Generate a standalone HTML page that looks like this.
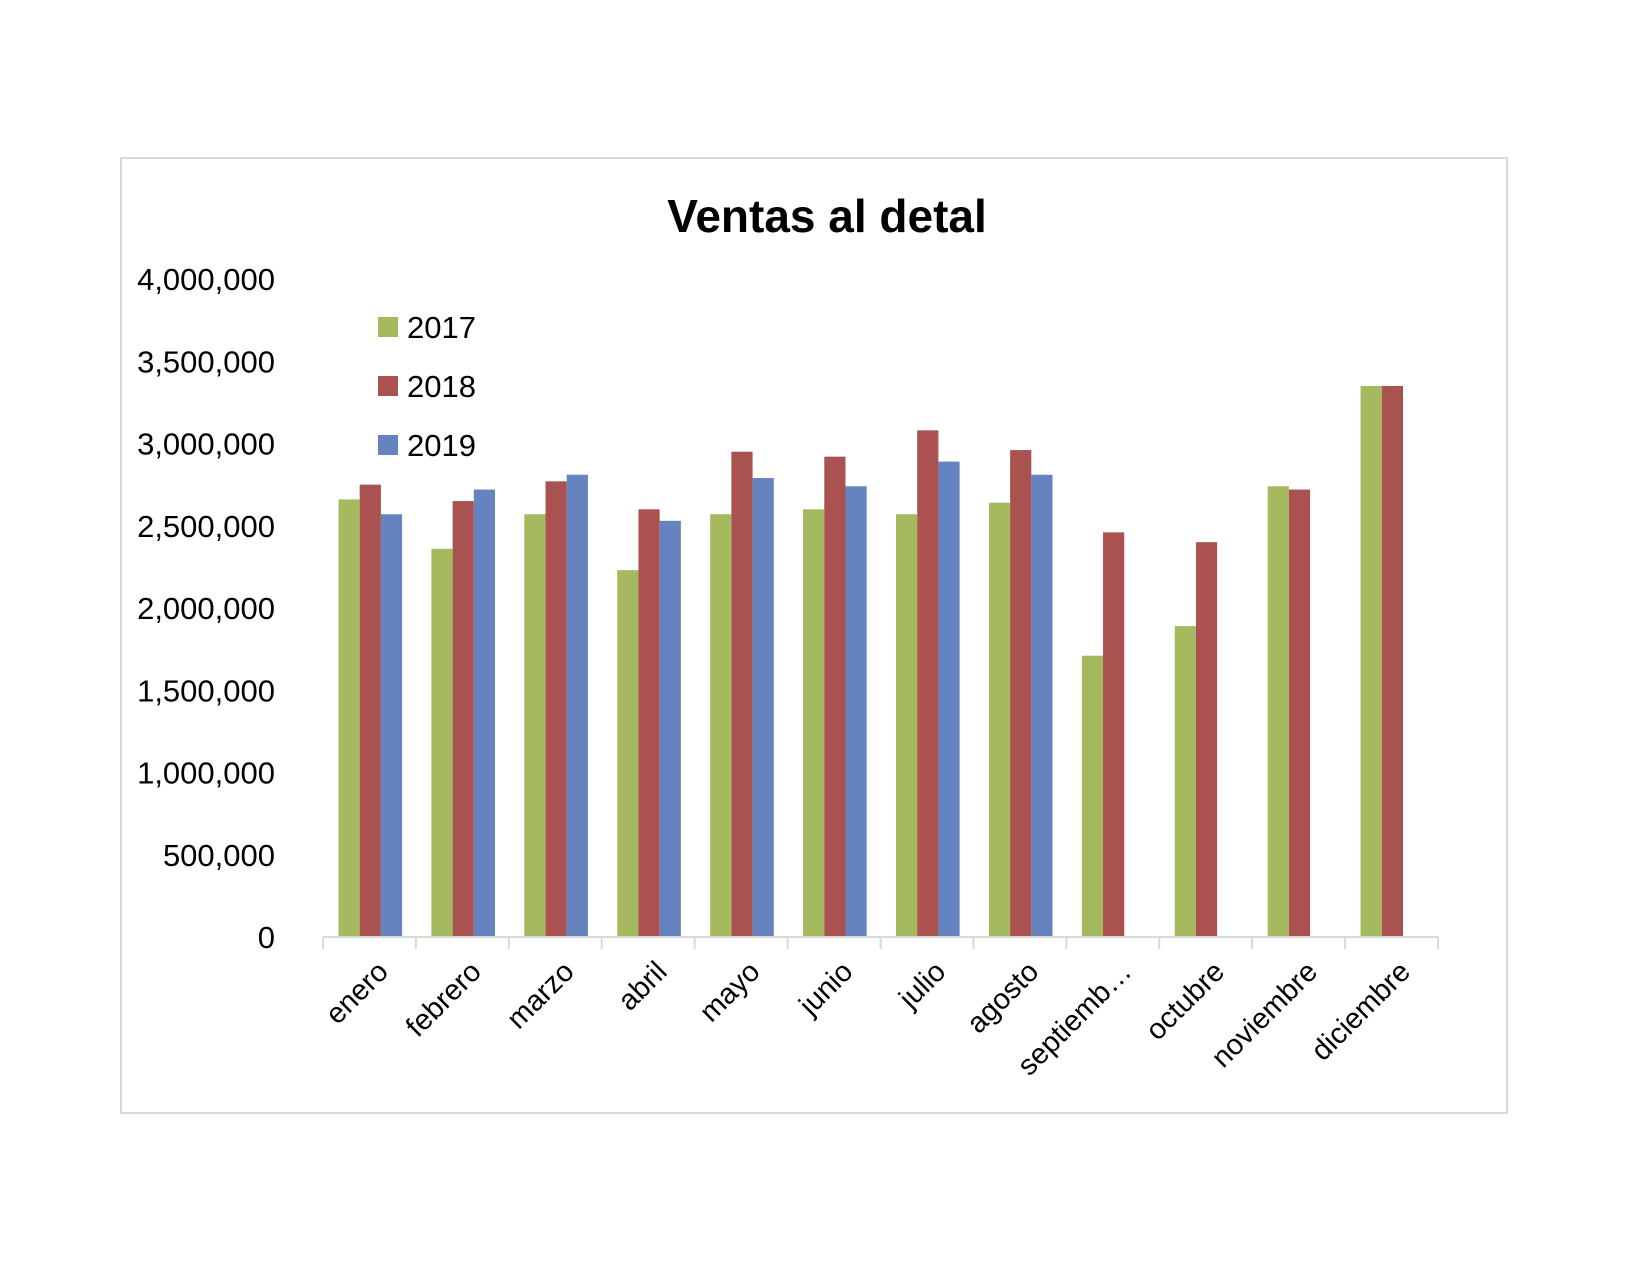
<!DOCTYPE html>
<html><head><meta charset="utf-8"><style>
body{margin:0;background:#fff}
svg{display:block;font-family:"Liberation Sans",sans-serif}
</style></head><body>
<svg id="chart" width="1650" height="1275">
<rect x="121" y="158" width="1386" height="955" fill="#fff" stroke="#d9d9d9" stroke-width="2"/>
<text x="827" y="232" text-anchor="middle" font-size="46" font-weight="bold">Ventas al detal</text>
<g id="yaxis"></g>
<g id="bars"></g>
<g id="xaxis"></g>
<g id="legend"></g>
</svg>
<script>
const categories=["enero","febrero","marzo","abril","mayo","junio","julio","agosto","septiemb…","octubre","noviembre","diciembre"];
const seriesNames=["2017","2018","2019"];
const s2017=[2660000,2360000,2570000,2230000,2570000,2600000,2570000,2640000,1710000,1890000,2740000,3350000];
const s2018=[2750000,2650000,2770000,2600000,2950000,2920000,3080000,2960000,2460000,2400000,2720000,3350000];
const s2019=[2570000,2720000,2810000,2530000,2790000,2740000,2890000,2810000,null,null,null,null];
const yTicks=[0,500000,1000000,1500000,2000000,2500000,3000000,3500000,4000000];
const yTickLabels=["0","500,000","1,000,000","1,500,000","2,000,000","2,500,000","3,000,000","3,500,000","4,000,000"];
const colors=["#9bbb59","#c0504d","#4f81bd"];
const NS="http://www.w3.org/2000/svg";
const x0=323,x1=1438,yBase=937,yTop=279,yMax=4000000;
const catW=(x1-x0)/categories.length, barW=21.2, groupOff=15.5;
const y=v=>yBase-(v/yMax)*(yBase-yTop);
function mk(tag,attrs,parent){const e=document.createElementNS(NS,tag);for(const k in attrs)e.setAttribute(k,attrs[k]);parent.appendChild(e);return e;}
const yg=document.getElementById('yaxis');
yTicks.forEach((t,i)=>{const e=mk('text',{x:275,y:y(t)+11,'text-anchor':'end','font-size':31},yg);e.textContent=yTickLabels[i];

});
const bg=document.getElementById('bars');
const series=[s2017,s2018,s2019];
const fills=["#a5b95f","#a9524f","#6583bf"];
series.forEach((s,si)=>{s.forEach((v,ci)=>{if(v==null)return;
const r=mk('rect',{x:x0+ci*catW+groupOff+si*barW,y:y(v),width:barW,height:yBase-y(v),fill:fills[si]},bg);

});});
const xg=document.getElementById('xaxis');
mk('line',{x1:x0,y1:yBase,x2:x1,y2:yBase,stroke:'#d9d9d9','stroke-width':2},xg);
for(let i=0;i<=categories.length;i++){mk('line',{x1:x0+i*catW,y1:yBase,x2:x0+i*catW,y2:yBase+12,stroke:'#d9d9d9','stroke-width':2},xg);}
categories.forEach((c,i)=>{const cx=x0+(i+0.5)*catW+6, cy=yBase+22;
const e=mk('text',{x:cx,y:cy,'text-anchor':'end','font-size':29,transform:`rotate(-45 ${cx} ${cy})`,dy:'0.7em'},xg);e.textContent=c;

});
const lg=document.getElementById('legend');
seriesNames.forEach((n,i)=>{const ly=327+i*59;
const r=mk('rect',{x:378,y:ly-10,width:20,height:20,fill:fills[i]},lg);


const t=mk('text',{x:407,y:ly+11,'font-size':31},lg);t.textContent=n;

});
</script>
</body></html>
